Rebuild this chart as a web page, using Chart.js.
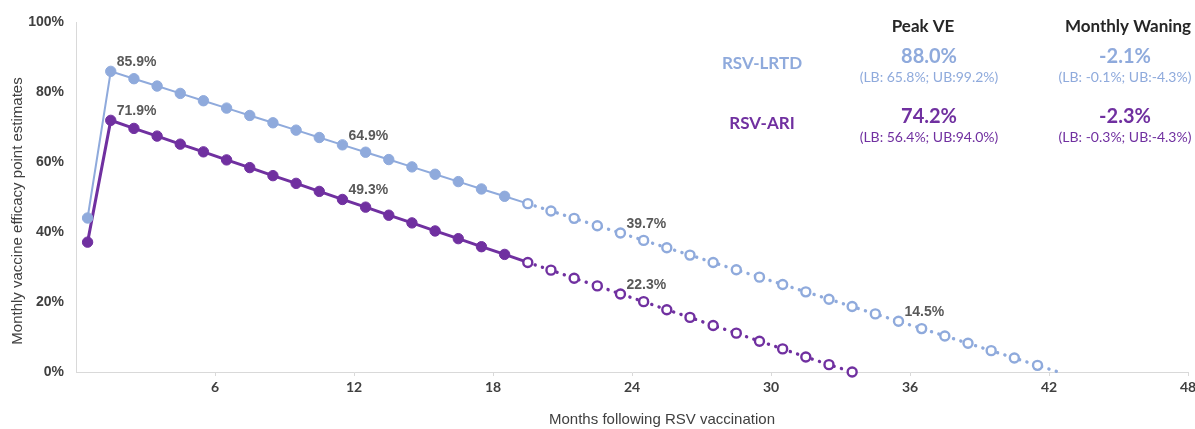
<!DOCTYPE html>
<html>
<head>
<meta charset="utf-8">
<script src="https://cdn.jsdelivr.net/npm/chart.js@4.4.1/dist/chart.umd.min.js"></script>
<style>
  html, body { margin: 0; padding: 0; background: #fff; }
  #wrap { width: 1195px; height: 429px; position: relative; }
</style>
</head>
<body>
<div id="wrap"><canvas id="ve"></canvas></div>
<script>
// months after vaccination (mid-month points), last LRTD point = where line hits 0
const monthsLRTD = [0.5, 1.5, 2.5, 3.5, 4.5, 5.5, 6.5, 7.5, 8.5, 9.5, 10.5, 11.5, 12.5, 13.5, 14.5, 15.5, 16.5, 17.5, 18.5, 19.5, 20.5,
  21.5, 22.5, 23.5, 24.5, 25.5, 26.5, 27.5, 28.5, 29.5, 30.5, 31.5, 32.5, 33.5, 34.5, 35.5, 36.5, 37.5, 38.5, 39.5, 40.5, 41.5, 42.4]
const monthsARI = [0.5, 1.5, 2.5, 3.5, 4.5, 5.5, 6.5, 7.5, 8.5, 9.5, 10.5, 11.5, 12.5, 13.5, 14.5, 15.5, 16.5, 17.5, 18.5, 19.5, 20.5,
  21.5, 22.5, 23.5, 24.5, 25.5, 26.5, 27.5, 28.5, 29.5, 30.5, 31.5, 32.5, 33.5]

const veLRTD = [44.0, 85.9, 83.8, 81.7, 79.6, 77.5, 75.4, 73.3, 71.2, 69.1, 67.0, 64.9, 62.8, 60.7, 58.6, 56.5, 54.4, 52.3, 50.2,
  48.1, 46.0, 43.9, 41.8, 39.7, 37.6, 35.5, 33.4, 31.3, 29.2, 27.1, 25.0, 22.9, 20.8, 18.7, 16.6, 14.5, 12.4, 10.3, 8.2, 6.1, 4.0, 1.9, 0.0]
const veARI = [37.1, 71.9, 69.6, 67.4, 65.1, 62.9, 60.6, 58.4, 56.1, 53.9, 51.6, 49.3, 47.1, 44.8, 42.6, 40.3, 38.1, 35.8, 33.6,
  31.3, 29.1, 26.8, 24.6, 22.3, 20.1, 17.8, 15.6, 13.3, 11.1, 8.8, 6.6, 4.3, 2.1, 0.0]

// points that carry a value label
const labelsLRTD = [1, 11, 23, 35]
const labelsARI = [1, 11, 23]
// observed data up to this index, extrapolated (hollow / dotted) after it
const lastObserved = 18

const xTicks = [6, 12, 18, 24, 30, 36, 42, 48]
const yTicks = [0, 20, 40, 60, 80, 100]

// right-hand summary table
const tableHeads = ['Peak VE', 'Monthly Waning']
const tableRows = [
  { name: 'RSV-LRTD', peak: '88.0%', peakCI: '(LB: 65.8%; UB:99.2%)', wane: '-2.1%', waneCI: '(LB: -0.1%; UB:-4.3%)' },
  { name: 'RSV-ARI', peak: '74.2%', peakCI: '(LB: 56.4%; UB:94.0%)', wane: '-2.3%', waneCI: '(LB: -0.3%; UB:-4.3%)' }
]

const BLUE = '#8faadc'
const PURPLE = '#7030a0'

function makeSet(label, months, values, color, width, labelIdx) {
  return {
    label: label,
    data: months.map((m, i) => ({ x: m, y: values[i] })),
    borderColor: color,
    borderWidth: width,
    pointBackgroundColor: values.map((v, i) => i <= lastObserved ? color : '#ffffff'),
    pointBorderColor: color,
    pointBorderWidth: values.map((v, i) => i <= lastObserved ? 1 : 2.4),
    pointRadius: months.map((m, i) => (m % 1 !== 0.5) ? 0 : (i <= lastObserved ? 5.2 : 4.5)),
    pointHoverRadius: 0,
    tension: 0,
    clip: false,
    labelIdx: labelIdx,
    segment: {
      borderDash: ctx => ctx.p0DataIndex > lastObserved ? [0.1, 7.6] : undefined,
      borderCapStyle: ctx => ctx.p0DataIndex > lastObserved ? 'round' : 'butt',
      borderWidth: ctx => ctx.p0DataIndex > lastObserved ? 3.4 : width
    }
  }
}

const valueLabels = {
  id: 'valueLabels',
  afterDatasetsDraw(chart) {
    const ctx = chart.ctx
    ctx.save()
    ctx.font = 'bold 14px "Liberation Sans", Arial, sans-serif'
    ctx.fillStyle = '#595959'
    ctx.textAlign = 'left'
    ctx.textBaseline = 'middle'
    chart.data.datasets.forEach((ds, d) => {
      const meta = chart.getDatasetMeta(d)
      ds.labelIdx.forEach(i => {
        const pt = meta.data[i]
        ctx.fillText(ds.data[i].y.toFixed(1) + '%', pt.x + 6, pt.y - 9)
      })
    })
    ctx.restore()
  }
}

const extraText = {
  id: 'extraText',
  afterDraw(chart) {
    const ctx = chart.ctx
    ctx.save()
    ctx.textBaseline = 'middle'
    ctx.textAlign = 'center'
    // axis titles
    ctx.fillStyle = '#404040'
    ctx.font = '15px "Liberation Sans", Arial, sans-serif'
    ctx.fillText('Months following RSV vaccination', 662, 420)
    ctx.save()
    ctx.translate(18, 211)
    ctx.rotate(-Math.PI / 2)
    ctx.fillText('Monthly vaccine efficacy point estimates', 0, 0)
    ctx.restore()

    // table
    const colX = [923, 1128]
    ctx.fillStyle = '#262626'
    ctx.font = 'bold 17px Lato, sans-serif'
    ctx.fillText(tableHeads[0], colX[0], 27)
    ctx.fillText(tableHeads[1], colX[1], 27)
    const rowY = [57, 117]
    const colors = [BLUE, PURPLE]
    tableRows.forEach((r, k) => {
      const y = rowY[k]
      ctx.fillStyle = colors[k]
      ctx.font = 'bold 17px Lato, sans-serif'
      ctx.fillText(r.name, 762, y + 7)
      ctx.font = 'bold 20px Lato, sans-serif'
      ctx.fillText(r.peak, 929, y)
      ctx.fillText(r.wane, 1125, y)
      ctx.font = '14px Lato, sans-serif'
      ctx.fillText(r.peakCI, 929, y + 20)
      ctx.fillText(r.waneCI, 1125, y + 20)
    })
    ctx.restore()
  }
}

function build_chart() {
  const canvas = document.getElementById('ve')
  new Chart(canvas, {
    type: 'line',
    data: {
      datasets: [
        makeSet('RSV-LRTD', monthsLRTD, veLRTD, BLUE, 2, labelsLRTD),
        makeSet('RSV-ARI', monthsARI, veARI, PURPLE, 3, labelsARI)
      ]
    },
    options: {
      responsive: true,
      maintainAspectRatio: false,
      animation: false,
      layout: { padding: { top: 22, right: 6, left: 0, bottom: 0 } },
      plugins: { legend: { display: false }, tooltip: { enabled: false } },
      scales: {
        x: {
          type: 'linear',
          min: 0,
          max: 48,
          afterFit: s => { s.height = 57; s.paddingLeft = 0; s.paddingRight = 0 },
          afterBuildTicks: s => { s.ticks = xTicks.map(v => ({ value: v })) },
          ticks: {
            color: '#404040',
            font: { family: 'Lato', weight: 'bold', size: 14 },
            padding: 3,
            maxRotation: 0
          },
          grid: { drawOnChartArea: false, color: '#d9d9d9', tickLength: 4 },
          border: { color: '#d9d9d9', width: 1 }
        },
        y: {
          min: 0,
          max: 100,
          afterFit: s => { s.width = 76; s.paddingTop = 0; s.paddingBottom = 0 },
          afterBuildTicks: s => { s.ticks = yTicks.map(v => ({ value: v })) },
          ticks: {
            color: '#404040',
            font: { family: '"Liberation Sans", Arial', weight: 'bold', size: 14 },
            padding: 12,
            callback: v => v + '%'
          },
          grid: { drawOnChartArea: false, drawTicks: false },
          border: { color: '#d9d9d9', width: 1 }
        }
      }
    },
    plugins: [valueLabels, extraText]
  })
}
build_chart()
</script>
</body>
</html>
